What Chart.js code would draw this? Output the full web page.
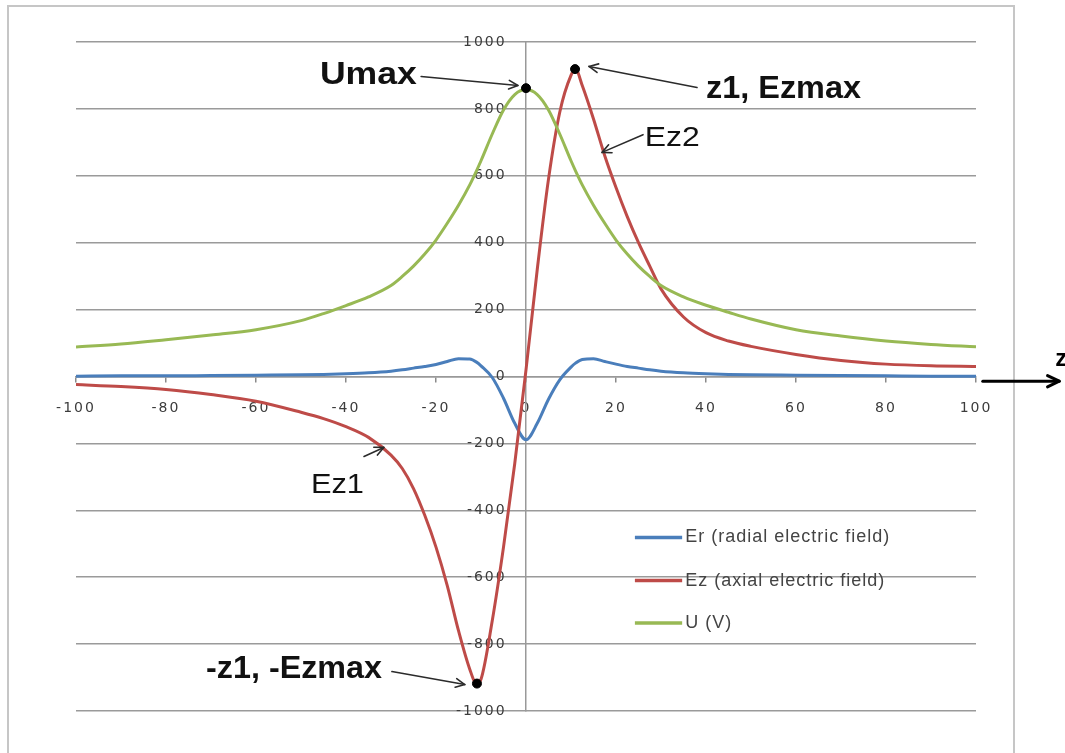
<!DOCTYPE html>
<html>
<head>
<meta charset="utf-8">
<script src="https://cdn.jsdelivr.net/npm/chart.js@4.4.1/dist/chart.umd.min.js"></script>
<style>
  html, body { margin: 0; padding: 0; background: #fff; }
  #frame { position: absolute; left: 7px; top: 5px; width: 1004px; height: 800px; border: 2px solid #c6c6c6; }
  #chart { position: absolute; left: 0; top: 0; }
</style>
</head>
<body>
<div id="frame"></div>
<canvas id="chart" width="1065" height="753"></canvas>
<script>
// z positions (shared by the three curves)
var zValues = [-100, -90, -80, -70, -60, -50, -45, -40, -35, -30, -27.5, -25, -22.5, -20, -17.5, -15, -12.5, -11, -10, -7.5, -5, -2.5,
               0, 2.5, 5, 7.5, 10, 11, 12.5, 15, 17.5, 20, 22.5, 25, 27.5, 30, 35, 40, 45, 50, 60, 70, 80, 90, 100];

// Er (radial electric field)
var erValues = [1, 2, 2, 3, 4, 5, 6, 8, 11, 16, 20, 25, 30, 36, 45, 53, 52, 43, 32, -3, -65, -140,
                -189, -140, -68, -10, 28, 40, 51, 53, 45, 37, 30, 25, 20, 16, 11, 8, 6, 5, 4, 3, 2, 1, 1];

// Ez (axial electric field)
var ezValues = [-24, -30, -39, -54, -74, -107, -126, -150, -182, -235, -275, -335, -415, -510, -625, -760, -875, -918, -905, -730, -510, -260,
                20, 320, 590, 790, 900, 919, 870, 770, 660, 565, 478, 400, 330, 262, 178, 131, 106, 90, 66, 48, 37, 32, 30];

// U (V)
var uValues = [88, 97, 110, 124, 140, 167, 188, 212, 238, 272, 299, 330, 366, 408, 458, 512, 573, 615, 645, 725, 797, 843,
               858, 843, 797, 725, 645, 615, 573, 512, 458, 408, 366, 330, 299, 272, 238, 213, 192, 172, 140, 121, 106, 96, 89];

var seriesNames = ['Er (radial electric field)', 'Ez (axial electric field)', 'U (V)'];
var seriesColors = ['#4a7ebb', '#be4b48', '#98b954'];

var xTickValues = [-100, -80, -60, -40, -20, 0, 20, 40, 60, 80, 100];
var yTickValues = [-1000, -800, -600, -400, -200, 0, 200, 400, 600, 800, 1000];

// marked points: Umax, (z1, Ezmax), (-z1, -Ezmax)
var markerZ = [0, 10.9, -10.9];
var markerV = [862, 919, -918];

// hand-drawn style callouts, placed in data units
var callouts = [
    { text: 'Umax', bold: true, at: [-45.8, 873], w: 97, from: [-23.3, 897], to: [-1.8, 870] },
    { text: 'z1, Ezmax', bold: true, at: [40, 834], w: 155, from: [38, 864], to: [14, 927] },
    { text: 'Ez2', bold: false, at: [26.4, 688], w: 55, from: [26, 723], to: [16.9, 670] },
    { text: 'Ez1', bold: false, at: [-47.8, -347], w: 53, from: [-36, -239], to: [-31.6, -212] },
    { text: '-z1, -Ezmax', bold: true, at: [-71.1, -900], w: 176, from: [-29.8, -882], to: [-13.6, -921] }
];

var legendBox = { lineFrom: 24.2, lineTo: 34.7, textAt: 35.4, rows: [-481, -610, -737] };

let toPoints = (vals) => vals.map((v, i) => ({ x: zValues[i], y: v }));

function drawArrow(ctx, x1, y1, x2, y2, head, width, color) {
    ctx.strokeStyle = color;
    ctx.lineWidth = width;
    ctx.beginPath();
    ctx.moveTo(x1, y1);
    ctx.lineTo(x2, y2);
    ctx.stroke();
    let a = Math.atan2(y2 - y1, x2 - x1);
    ctx.beginPath();
    ctx.moveTo(x2 - head * Math.cos(a - 0.45), y2 - head * Math.sin(a - 0.45));
    ctx.lineTo(x2, y2);
    ctx.lineTo(x2 - head * Math.cos(a + 0.45), y2 - head * Math.sin(a + 0.45));
    ctx.stroke();
}

function stretchedText(ctx, text, x, y, font, width) {
    ctx.font = font;
    let m = ctx.measureText(text).width;
    ctx.save();
    ctx.translate(x, y);
    ctx.scale(width / m, 1);
    ctx.fillText(text, 0, 0);
    ctx.restore();
}

var overlay = {
    id: 'overlay',
    beforeDraw(chart) {
        // spaced-out tick labels like the original
        chart.ctx.letterSpacing = '2px';
    },
    afterDraw(chart) {
        let ctx = chart.ctx;
        let xs = chart.scales.x, ys = chart.scales.y;
        let px = z => xs.getPixelForValue(z);
        let py = v => ys.getPixelForValue(v);
        ctx.save();
        ctx.letterSpacing = '0px';
        ctx.lineJoin = 'round';

        // legend
        ctx.textBaseline = 'middle';
        ctx.textAlign = 'left';
        for (let i = 0; i < seriesNames.length; i++) {
            let y = py(legendBox.rows[i]);
            ctx.strokeStyle = seriesColors[i];
            ctx.lineWidth = 3.5;
            ctx.lineCap = 'butt';
            ctx.beginPath();
            ctx.moveTo(px(legendBox.lineFrom), y);
            ctx.lineTo(px(legendBox.lineTo), y);
            ctx.stroke();
            ctx.fillStyle = '#444';
            ctx.font = '18px "Liberation Sans"';
            ctx.letterSpacing = '1px';
            ctx.fillText(seriesNames[i], px(legendBox.textAt), y);
            ctx.letterSpacing = '0px';
        }
        ctx.lineCap = 'round';

        // callouts
        ctx.textBaseline = 'alphabetic';
        for (let c of callouts) {
            drawArrow(ctx, px(c.from[0]), py(c.from[1]), px(c.to[0]), py(c.to[1]), 10, 1.6, '#2b2b2b');
            ctx.fillStyle = '#111';
            let font = c.bold ? 'bold 31px "Liberation Sans"' : '27px "Liberation Sans"';
            stretchedText(ctx, c.text, px(c.at[0]), py(c.at[1]), font, c.w);
        }

        // z axis arrow beyond the plot
        drawArrow(ctx, px(101.5), py(-14), px(118.5), py(-14), 13, 3, '#000');
        ctx.fillStyle = '#000';
        ctx.font = 'bold 24px "Liberation Sans"';
        ctx.fillText('z', px(117.6), py(30));
        ctx.restore();
    }
};

new Chart(document.getElementById('chart'), {
    type: 'line',
    data: {
        datasets: [
            { label: seriesNames[0], data: toPoints(erValues), borderColor: seriesColors[0], backgroundColor: seriesColors[0], order: 3 },
            { label: seriesNames[1], data: toPoints(ezValues), borderColor: seriesColors[1], backgroundColor: seriesColors[1], order: 2 },
            { label: seriesNames[2], data: toPoints(uValues), borderColor: seriesColors[2], backgroundColor: seriesColors[2], order: 1 },
            {
                label: 'marks',
                data: markerZ.map((z, i) => ({ x: z, y: markerV[i] })),
                showLine: false,
                pointRadius: 4.5,
                pointBackgroundColor: '#000',
                pointBorderColor: '#000',
                order: 0
            }
        ]
    },
    options: {
        responsive: false,
        animation: false,
        devicePixelRatio: 1,
        layout: { padding: { left: 76, right: 89, top: 42, bottom: 42 } },
        elements: {
            line: { borderWidth: 3, cubicInterpolationMode: 'monotone', fill: false },
            point: { radius: 0 }
        },
        plugins: { legend: { display: false }, tooltip: { enabled: false } },
        scales: {
            x: {
                type: 'linear',
                min: -100,
                max: 100,
                position: { y: 0 },
                afterBuildTicks: s => { s.ticks = xTickValues.map(v => ({ value: v })); },
                ticks: { color: '#3c3c3c', font: { family: 'DejaVu Sans', size: 14 }, padding: 18, maxRotation: 0, autoSkip: false,
                         callback: v => String(v) },
                grid: { drawOnChartArea: false, drawTicks: true, tickLength: 5, color: '#8a8a8a', lineWidth: 1.5 },
                border: { color: '#999', width: 1.5 }
            },
            y: {
                type: 'linear',
                min: -1000,
                max: 1000,
                position: { x: 0 },
                afterBuildTicks: s => { s.ticks = yTickValues.map(v => ({ value: v })); },
                // trailing spaces keep the labels off the axis line
                ticks: { color: '#3c3c3c', font: { family: 'DejaVu Sans', size: 14 }, autoSkip: false,
                         callback: v => String(v) + '   ' },
                grid: { color: '#9a9a9a', lineWidth: 1.5, drawTicks: false },
                border: { color: '#999', width: 1.5 }
            }
        }
    },
    plugins: [overlay]
});
</script>
</body>
</html>
